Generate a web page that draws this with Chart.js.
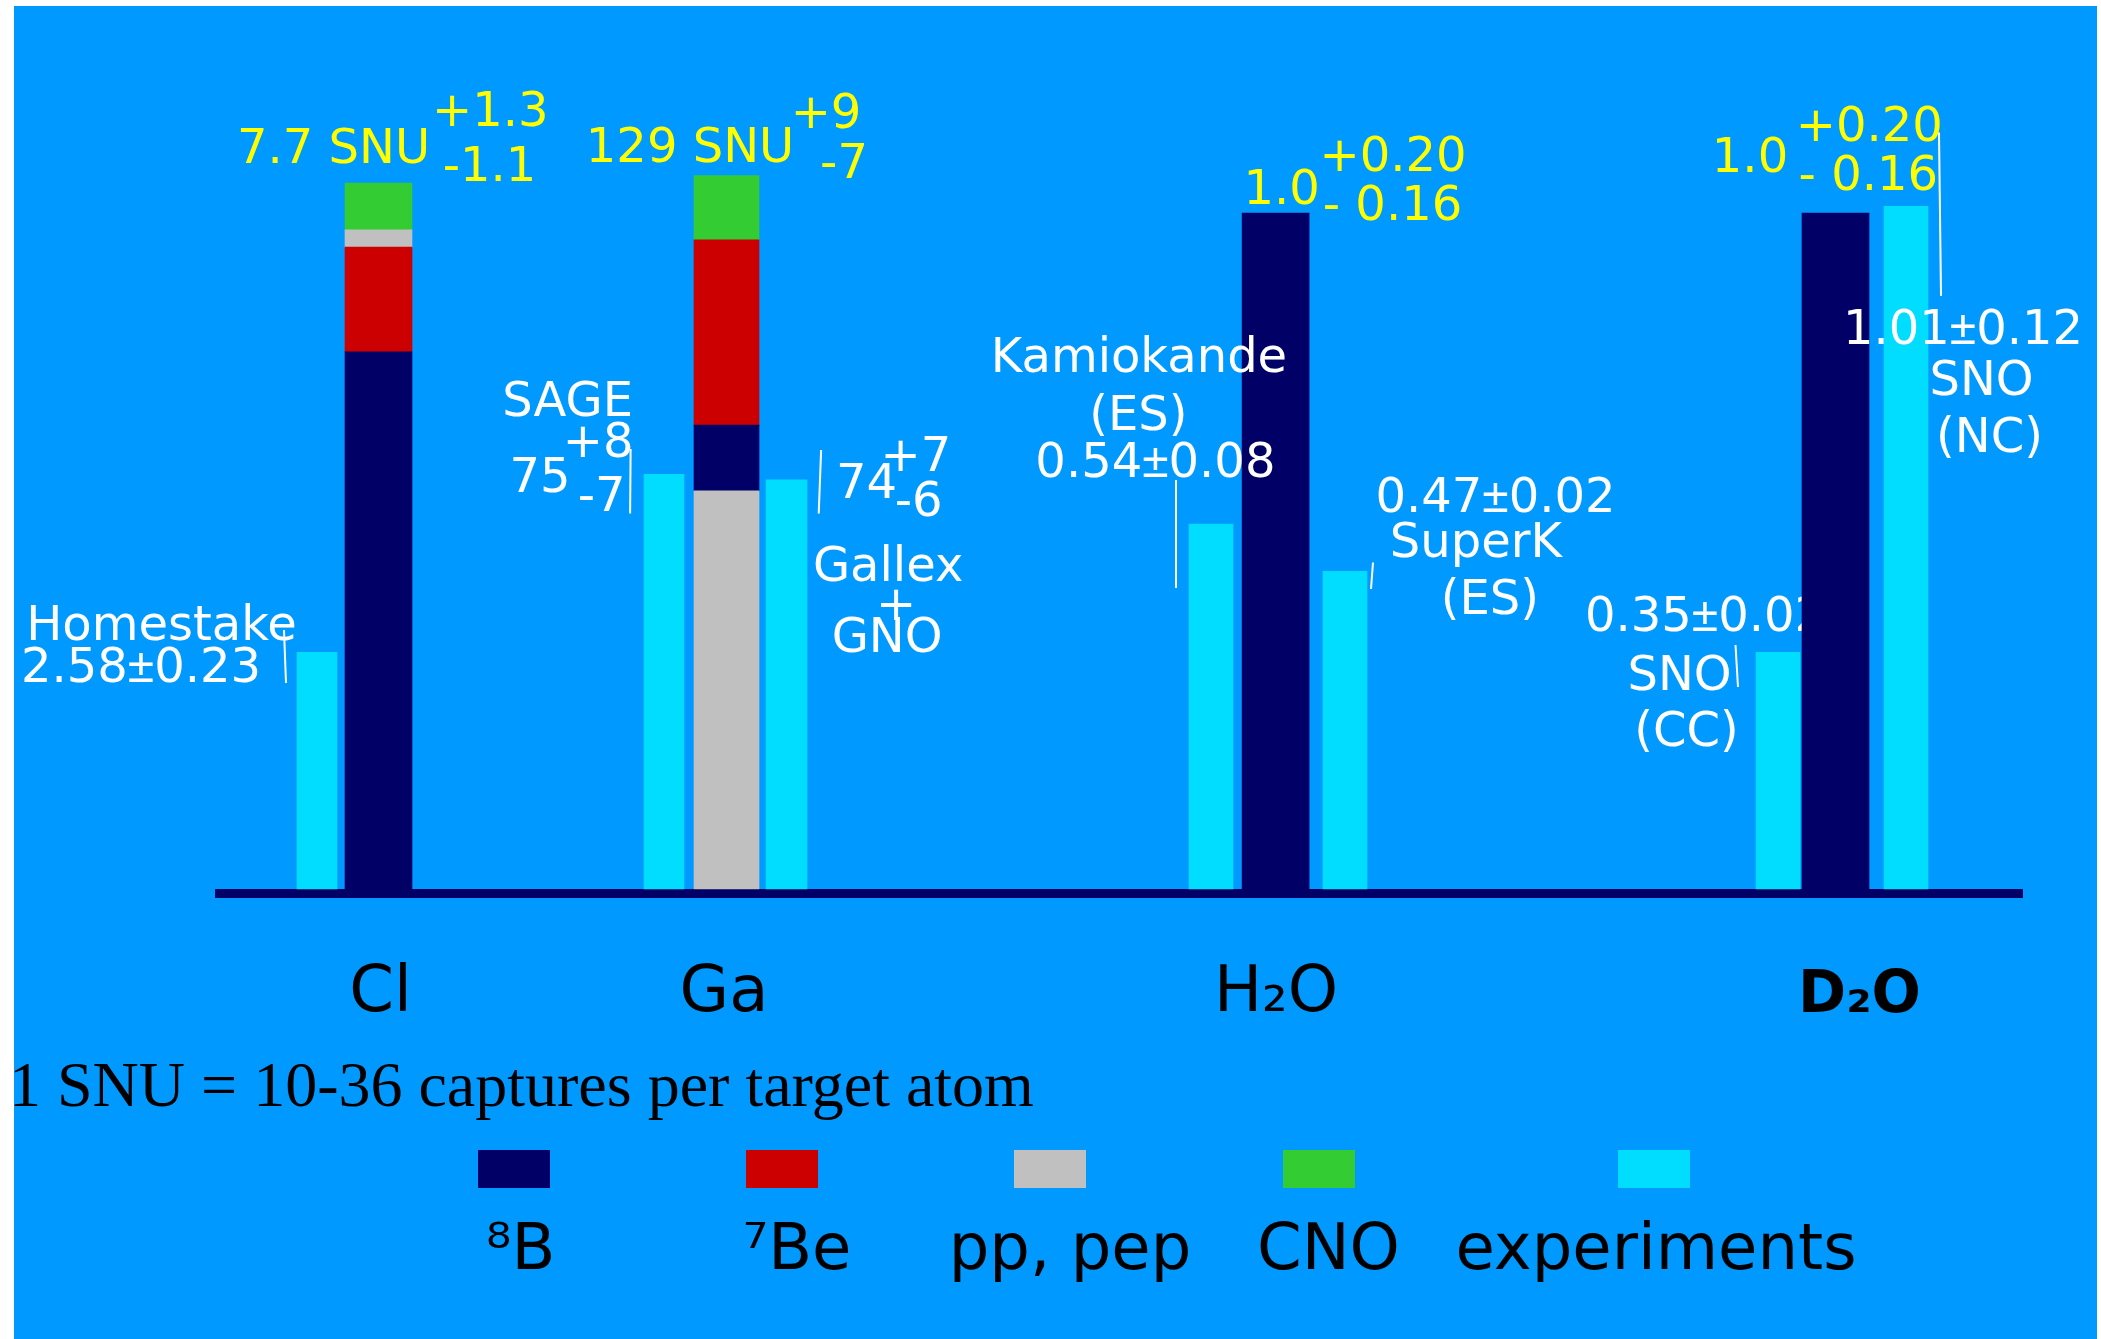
<!DOCTYPE html>
<html>
<head>
<meta charset="utf-8">
<script src="https://cdn.jsdelivr.net/npm/chart.js@4.4.1/dist/chart.umd.min.js"></script>
<style>
  html, body { margin: 0; padding: 0; background: #ffffff; }
  canvas { display: block; }
</style>
</head>
<body>
<canvas id="c" width="2101" height="1339" style="width:2101px;height:1339px"></canvas>
<script>
// ---------------- data ----------------
const categories = ['Cl', 'Ga', 'H₂O', 'D₂O'];
const componentNames = ['⁸B', '⁷Be', 'pp, pep', 'CNO'];
const clSNU = [5.86, 1.14, 0.19, 0.51];      // Cl prediction by component (SNU)
const gaSNU = [11.9, 33.5, 72.0, 11.6];      // Ga prediction by component (SNU)
const waterB8 = [1.0, 1.0];                  // H2O, D2O prediction (8B, normalised)
const theoryTotal = [7.7, 129, 1.0, 1.0];
const theoryErrPlus = [1.3, 9, 0.20, 0.20];
const theoryErrMinus = [1.1, 7, 0.16, 0.16];
const theoryUnit = [' SNU', ' SNU', '', ''];
const experimentNames = ['Homestake', 'SAGE', 'Gallex + GNO', 'Kamiokande (ES)', 'SuperK (ES)', 'SNO (CC)', 'SNO (NC)'];
const experimentTarget = [0, 1, 1, 2, 2, 3, 3];
const experimentValues = [2.58, 75, 74, 0.54, 0.47, 0.35, 1.01];
const experimentErrPlus = [0.23, 8, 7, 0.08, 0.02, 0.02, 0.12];
const experimentErrMinus = [0.23, 7, 6, 0.08, 0.02, 0.02, 0.12];
const legendLabels = ['⁸B', '⁷Be', 'pp, pep', 'CNO', 'experiments'];
const footnote = '1 SNU = 10-36 captures per target atom';

// ---------------- formatting ----------------
const theoryDigits = [1, 0, 1, 1];
const theoryErrDigits = [1, 0, 2, 2];
const theoryMinusSign = ['-', '-', '- ', '- '];
const expDigits = [2, 0, 0, 2, 2, 2, 2];

// ---------------- styles / layout ----------------
const BG = '#0099FF';
const COL = { navy: '#000066', red: '#CC0000', gray: '#C0C0C0', green: '#33CC33', cyan: '#00DDFF', yellow: '#FFFF00', white: '#FFFFFF' };
const componentColors = [COL.navy, COL.red, COL.gray, COL.green];
const catPos = [0, 5.016, 12.93, 21];          // category positions along the x axis
const X_MIN = -2.2917, X_MAX = 23.688;
const UNIT_PX = 69.381;
const labelNudge = [2, -2.5, 0.4, 24];         // px nudges of category labels
const Y_AXES = {
  yCl: { min: -0.04908, max: 8.6053 },
  yGa: { min: -0.8138, max: 142.69 },
  yR:  { min: -0.006657, max: 1.1672 }
};
const expSide = ['L', 'L', 'R', 'L', 'R', 'L', 'R'];
const expBar = [
  { off: 61.5, w: 40 }, { off: 62.5, w: 40 }, { off: 60, w: 41 },
  { off: 64.6, w: 44 }, { off: 69.4, w: 44 }, { off: 57.5, w: 44 }, { off: 70.5, w: 44 }
];
const yAxisFor = ['yCl', 'yGa', 'yR', 'yR'];
const theoryWidth = [67, 65, 67, 67];

// text offsets relative to bar top centre
const theoryTextLayout = [
  { total: [-45, -20], plus: [111.8, -57], minus: [111, -2] },
  { total: [-36.5, -13.7], plus: [99.5, -47.7], minus: [117.5, 1.9] },
  { total: [6.1, -9.4], plus: [117.4, -42], minus: [116.9, 6.6] },
  { total: [-85.5, -41.2], plus: [33.8, -72], minus: [32.8, -23.3] }
];
const expTextLayout = [
  { name: [[-155.5, -12.5]], value: [-176, 29.3], lead: [-33, -22.5, -31, 30.5] },
  { name: [[-96.4, -58.7]], value: [-124.1, 18.2], plus: [-65.9, -17.3], minus: [-62.4, 36.7], lead: [-33.4, -25.3, -33.9, 39.3] },
  { name: [[101.6, 100.8], [109.6, 140.2], [100.6, 172.2]], value: [80.1, 18.2], plus: [129.4, -8.8], minus: [132.1, 35.7], lead: [34.6, -29.8, 32.2, 33.8] },
  { name: [[-72, -152.3], [-72.6, -94]], value: [-55.6, -47.3], lead: [-35, -44, -35, 64] },
  { name: [[130.9, -14.3], [144.9, 42.7]], value: [150.5, -58.8], lead: [28, -8.8, 26, 17.7] },
  { name: [[-98.5, 37.3], [-91.5, 93.6]], value: [-73, -21.4], behindValue: true, lead: [-42.5, -7.4, -40, 34.6] },
  { name: [[75.5, 188.6], [83.5, 246]], value: [57, 138.1], lead: [33, -73.7, 35, 89.6] }
];
const legendSquareX = [478, 746, 1014, 1283, 1618];
const legendLabelX = [520.5, 797, 1070, 1328.5, 1656];

// ---------------- datasets ----------------
const datasets = [];
const anchorOf = {};
function addExperiments(side) {
  experimentValues.forEach((v, e) => {
    if (expSide[e] !== side) return;
    const g = experimentTarget[e];
    anchorOf['e' + e] = [datasets.length, 0];
    datasets.push({
      label: experimentNames[e],
      data: [{ x: catPos[g], y: v }],
      yAxisID: yAxisFor[g], stack: side,
      backgroundColor: COL.cyan,
      barThickness: expBar[e].off, maxBarThickness: expBar[e].w
    });
  });
}
addExperiments('L');
[0, 1, 2, 3].forEach(k => datasets.push({
  label: componentNames[k] + ' (Cl)', data: [{ x: catPos[0], y: clSNU[k] }],
  yAxisID: 'yCl', stack: 'T', backgroundColor: componentColors[k],
  barThickness: theoryWidth[0], maxBarThickness: theoryWidth[0]
}));
anchorOf.t0 = [datasets.length - 1, 0];
[2, 0, 1, 3].forEach(k => datasets.push({
  label: componentNames[k] + ' (Ga)', data: [{ x: catPos[1], y: gaSNU[k] }],
  yAxisID: 'yGa', stack: 'T', backgroundColor: componentColors[k],
  barThickness: theoryWidth[1], maxBarThickness: theoryWidth[1]
}));
anchorOf.t1 = [datasets.length - 1, 0];
datasets.push({
  label: componentNames[0] + ' (water)', data: waterB8.map((v, i) => ({ x: catPos[2 + i], y: v })),
  yAxisID: 'yR', stack: 'T', backgroundColor: COL.navy,
  barThickness: theoryWidth[2], maxBarThickness: theoryWidth[2]
});
anchorOf.t2 = [datasets.length - 1, 0];
anchorOf.t3 = [datasets.length - 1, 1];
addExperiments('R');

// ---------------- plugins ----------------
const FONT = '48px "DejaVu Sans"';
const PM_FONT = '48px "Liberation Sans"';
function anchor(chart, key) {
  const [d, i] = anchorOf[key];
  const el = chart.getDatasetMeta(d).data[i];
  return { x: el.x, y: el.y };
}
function put(ctx, a, off, txt, color) {
  ctx.fillStyle = color;
  const x = a.x + off[0], y = a.y + off[1];
  if (txt.indexOf('±') < 0) { ctx.fillText(txt, x, y); return; }
  // draw "a±b" with a narrower plus-minus glyph
  const [left, right] = txt.split('±');
  ctx.font = FONT; const wl = ctx.measureText(left).width, wr = ctx.measureText(right).width;
  ctx.font = PM_FONT; const wp = ctx.measureText('±').width;
  let cx = x - (wl + wp + wr) / 2;
  ctx.textAlign = 'left';
  ctx.font = FONT; ctx.fillText(left, cx, y); cx += wl;
  ctx.font = PM_FONT; ctx.fillText('±', cx, y); cx += wp;
  ctx.font = FONT; ctx.fillText(right, cx, y);
  ctx.textAlign = 'center';
}
function drawAnnotations(chart, behind) {
  const ctx = chart.ctx;
  ctx.save();
  ctx.font = FONT;
  ctx.textAlign = 'center';
  ctx.textBaseline = 'alphabetic';
  if (!behind) {
    theoryTotal.forEach((v, g) => {
      const a = anchor(chart, 't' + g), L = theoryTextLayout[g];
      put(ctx, a, L.total, v.toFixed(theoryDigits[g]) + theoryUnit[g], COL.yellow);
      put(ctx, a, L.plus, '+' + theoryErrPlus[g].toFixed(theoryErrDigits[g]), COL.yellow);
      put(ctx, a, L.minus, theoryMinusSign[g] + theoryErrMinus[g].toFixed(theoryErrDigits[g]), COL.yellow);
    });
  }
  experimentValues.forEach((v, e) => {
    const a = anchor(chart, 'e' + e), L = expTextLayout[e], d = expDigits[e];
    const sym = experimentErrPlus[e] === experimentErrMinus[e];
    const valueText = sym ? v.toFixed(d) + '±' + experimentErrPlus[e].toFixed(d) : v.toFixed(d);
    if (!!L.behindValue === behind) put(ctx, a, L.value, valueText, COL.white);
    if (behind) return;
    experimentNames[e].split(' ').forEach((w, k) => put(ctx, a, L.name[k], w, COL.white));
    if (!sym) {
      put(ctx, a, L.plus, '+' + experimentErrPlus[e].toFixed(d), COL.white);
      put(ctx, a, L.minus, '-' + experimentErrMinus[e].toFixed(d), COL.white);
    }
    ctx.strokeStyle = COL.white;
    ctx.lineWidth = 2;
    ctx.beginPath();
    ctx.moveTo(a.x + L.lead[0], a.y + L.lead[1]);
    ctx.lineTo(a.x + L.lead[2], a.y + L.lead[3]);
    ctx.stroke();
  });
  ctx.restore();
}
const backgroundPlugin = {
  id: 'pageBackground',
  beforeDraw(chart) {
    const ctx = chart.ctx;
    ctx.save();
    ctx.fillStyle = '#ffffff';
    ctx.fillRect(0, 0, chart.width, chart.height);
    ctx.fillStyle = BG;
    ctx.fillRect(14, 6, 2097 - 14, chart.height - 6);
    ctx.restore();
  }
};
const annotationPlugin = {
  id: 'annotations',
  beforeDatasetsDraw(chart) { drawAnnotations(chart, true); },
  afterDatasetsDraw(chart) { drawAnnotations(chart, false); },
  afterDraw(chart) {
    const ctx = chart.ctx;
    ctx.save();
    // footnote
    ctx.fillStyle = '#000000';
    ctx.font = '64px "Liberation Serif"';
    ctx.textAlign = 'left';
    ctx.textBaseline = 'alphabetic';
    ctx.fillText(footnote, 9, 1106);
    // legend
    const colors = componentColors.concat([COL.cyan]);
    ctx.font = '64px "DejaVu Sans"';
    ctx.textAlign = 'center';
    legendLabels.forEach((lab, i) => {
      ctx.fillStyle = colors[i];
      ctx.fillRect(legendSquareX[i], 1150, 72, 38);
      ctx.fillStyle = '#000000';
      ctx.fillText(lab, legendLabelX[i], 1269);
    });
    ctx.restore();
  }
};

// ---------------- chart ----------------
const yScale = id => ({ type: 'linear', display: false, stacked: true, min: Y_AXES[id].min, max: Y_AXES[id].max, bounds: 'data' });
new Chart(document.getElementById('c'), {
  type: 'bar',
  data: { datasets },
  plugins: [backgroundPlugin, annotationPlugin],
  options: {
    responsive: false,
    devicePixelRatio: 1,
    animation: false,
    layout: { padding: { left: 219.5, right: 79, top: 100, bottom: 239.14 } },
    plugins: { legend: { display: false }, tooltip: { enabled: false }, title: { display: false } },
    scales: {
      x: {
        type: 'linear', min: X_MIN, max: X_MAX, offset: false, bounds: 'data',
        grid: { display: false, drawTicks: false },
        border: { display: true, color: COL.navy, width: 9 },
        afterBuildTicks: s => { s.ticks = catPos.map((p, i) => ({ value: p + labelNudge[i] / UNIT_PX })); },
        ticks: {
          autoSkip: false, maxRotation: 0, minRotation: 0, padding: 62.75, color: '#000000',
          callback: (v, i) => categories[i],
          font: ctx => ctx.index === 3
            ? { family: 'DejaVu Sans', size: 58, weight: 'bold', lineHeight: '80.86px' }
            : { family: 'DejaVu Sans', size: 64, weight: 'normal', lineHeight: 1.2 }
        }
      },
      yCl: yScale('yCl'),
      yGa: yScale('yGa'),
      yR: yScale('yR')
    }
  }
});
</script>
</body>
</html>
